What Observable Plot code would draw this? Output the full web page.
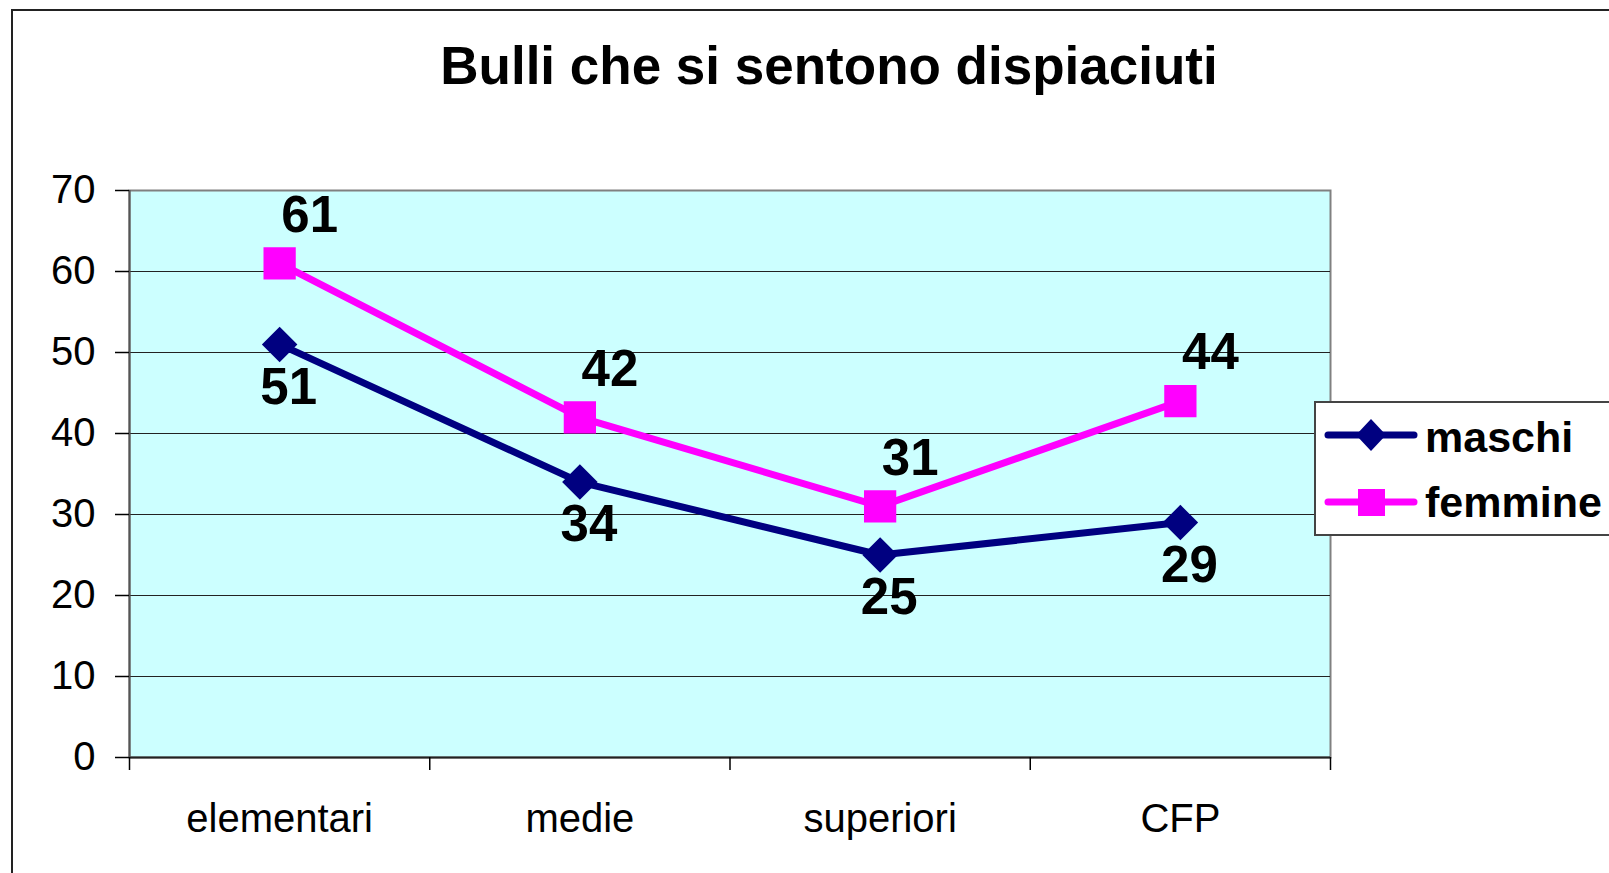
<!DOCTYPE html>
<html>
<head>
<meta charset="utf-8">
<script src="https://cdn.jsdelivr.net/npm/d3@7"></script>
<script src="https://cdn.jsdelivr.net/npm/@observablehq/plot@0.6"></script>
<style>
  html, body { margin: 0; padding: 0; background: #fff; overflow: hidden; }
  #wrap { position: relative; width: 1609px; height: 873px; overflow: hidden; font-family: "Liberation Sans", Arial, sans-serif; }
  #border { position: absolute; left: 11px; top: 9px; width: 1700px; height: 1000px; border: 2px solid #222; }
  #title { position: absolute; left: 329px; width: 1000px; top: 39px; text-align: center; font-weight: bold; font-size: 53px; line-height: 53px; color: #000; }
  #chart { position: absolute; left: 0; top: 0; }
  #legend { position: absolute; left: 1314px; top: 401px; width: 400px; height: 131px; border: 2px solid #444; background: #fff; }
  .li { position: absolute; left: 1425px; font-weight: bold; font-size: 43px; line-height: 43px; color: #000; white-space: nowrap; }
  .sw { position: absolute; left: 1322px; }
</style>
</head>
<body>
<div id="wrap">
  <div id="border"></div>
  <div id="chart"></div>
  <div id="title">Bulli che si sentono dispiaciuti</div>
  <div id="legend"></div>
  <svg class="sw" style="top:415px" width="100" height="40"><line x1="6" y1="20" x2="92" y2="20" stroke="#000080" stroke-width="7" stroke-linecap="round"/><path d="M49,4 L64,20 L49,36 L34,20 Z" fill="#000080"/></svg>
  <div class="li" style="top:416px">maschi</div>
  <svg class="sw" style="top:482px" width="100" height="40"><line x1="6" y1="20" x2="92" y2="20" stroke="#FF00FF" stroke-width="7" stroke-linecap="round"/><rect x="36" y="7" width="27" height="27" fill="#FF00FF"/></svg>
  <div class="li" style="top:481px">femmine</div>
</div>
<script>
const categories = ["elementari", "medie", "superiori", "CFP"];
const maschi = [51, 34, 25, 29];
const femmine = [61, 42, 31, 44];
const yTicks = [0, 10, 20, 30, 40, 50, 60, 70];

const dataM = categories.map((c, i) => ({i: i + 0.5, cat: c, v: maschi[i]}));
const dataF = categories.map((c, i) => ({i: i + 0.5, cat: c, v: femmine[i]}));
const bounds = d3.range(categories.length + 1);
const centers = categories.map((c, i) => i + 0.5);

const chart = Plot.plot({
  width: 1609,
  height: 873,
  marginLeft: 129,
  marginRight: 279,
  marginTop: 190,
  marginBottom: 116,
  style: {fontFamily: "'Liberation Sans', Arial, sans-serif", fontSize: "40px", background: "transparent", color: "#000"},
  x: {domain: [0, categories.length], axis: null},
  y: {domain: [0, 70], axis: null},
  marks: [
    Plot.frame({fill: "#CCFFFF", stroke: "#808080", strokeWidth: 2}),
    Plot.ruleY(yTicks.filter(d => d > 0 && d < 70), {stroke: "#222", strokeWidth: 1.2}),
    Plot.ruleY([0], {stroke: "#222", strokeWidth: 2}),
    Plot.ruleX([0], {stroke: "#555", strokeWidth: 2}),
    Plot.axisY({ticks: yTicks, tickSize: 14, tickPadding: 20, label: null, strokeWidth: 1.5}),
    Plot.axisX({ticks: bounds, tickSize: 13, tickFormat: () => "", label: null, strokeWidth: 1.5}),
    Plot.axisX({ticks: centers, tickSize: 0, tickPadding: 46, tickFormat: d => categories[Math.floor(d)], label: null}),
    Plot.line(dataM, {x: "i", y: "v", stroke: "#000080", strokeWidth: 7}),
    Plot.line(dataF, {x: "i", y: "v", stroke: "#FF00FF", strokeWidth: 7}),
    Plot.dot(dataM, {x: "i", y: "v", symbol: "diamond2", r: 16, fill: "#000080", stroke: "none"}),
    Plot.dot(dataF, {x: "i", y: "v", symbol: "square", r: 18.2, fill: "#FF00FF", stroke: "none"}),
    Plot.text(dataM, {x: "i", y: "v", text: d => String(d.v), dx: 9, dy: 43, fontSize: 51, fontWeight: "bold", fill: "#000"}),
    Plot.text(dataF, {x: "i", y: "v", text: d => String(d.v), dx: 30, dy: -48, fontSize: 51, fontWeight: "bold", fill: "#000"})
  ]
});
document.getElementById("chart").appendChild(chart);
</script>
</body>
</html>
